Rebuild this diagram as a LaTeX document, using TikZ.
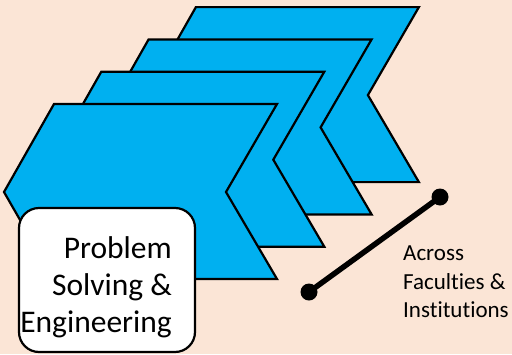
\documentclass[tikz,border=0pt]{standalone}
\usepackage{fontspec}
\setmainfont{Carlito}[Ligatures={NoCommon}]
\definecolor{peach}{HTML}{FBE5D6}
\definecolor{chevblue}{HTML}{00B0F0}

\begin{document}
\begin{tikzpicture}[x=1pt,y=-1pt,
	chevron/.style={draw=black,line width=2.2pt,fill=chevblue,line join=miter},
	probbox/.style={draw=black,line width=2.2pt,fill=white,rounded corners=20pt,minimum width=176pt,minimum height=144pt,inner sep=0pt},
	enddot/.style={circle,fill=black,minimum size=17pt,inner sep=0pt},
	bigtext/.style={font=\fontsize{31.5}{37}\selectfont,align=right,inner sep=0pt},
	smalltext/.style={font=\fontsize{23}{28.5}\selectfont,align=left,inner sep=0pt}]
	\path[use as bounding box,fill=peach] (0,0) rectangle (512,354);
	\foreach \i in {3,2,1,0}
		\draw[chevron,shift={(47.3*\i,-32.3*\i)}] (54,104) -- (277,104) -- (226,192) -- (277,279) -- (54,279) -- (4,192) -- cycle;
	\node[probbox] (probbox) at (107,280) {};
	\node[bigtext,anchor=east] (probtext) at (172,287) {Problem\\Solving \&\\Engineering};
	\node[enddot] (lowend) at (309,292) {};
	\node[enddot] (highend) at (440,197) {};
	\draw[line width=5.5pt] (lowend.center) -- (highend.center);
	\node[smalltext,anchor=west] (across) at (403,282) {Across\\Faculties \&\\Institutions};
\end{tikzpicture}
\end{document}
